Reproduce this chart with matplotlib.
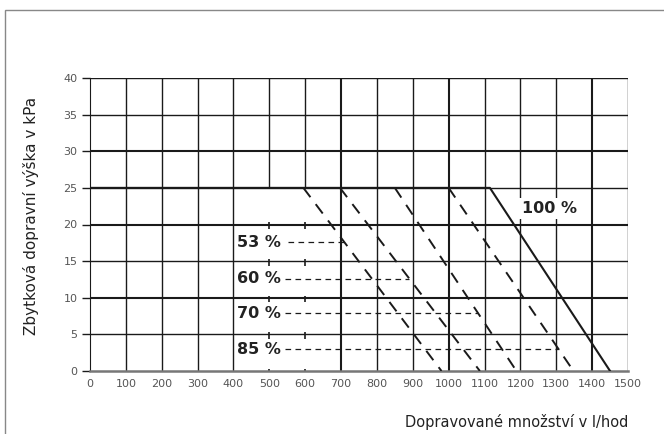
import numpy as np
import matplotlib
matplotlib.use('Agg')
import matplotlib.pyplot as plt
from matplotlib.patches import Rectangle

plt.rcParams['font.family'] = ['DejaVu Sans']

# pump curve at 100 %
flow_100 = [0, 1115, 1450]
head_100 = [25, 25, 0]

# reduced-speed curves: start at 25 kPa, end at 0 kPa
diag_start = [595, 697, 850, 1000]
diag_end = [980, 1087, 1189, 1348]

# operating points
pct_labels = ['53 %', '60 %', '70 %', '85 %']
pct_head = [17.6, 12.6, 7.9, 3.0]
pct_dash_from = [552, 543, 543, 543]

x_ticks = np.arange(0, 1501, 100)
y_ticks = np.arange(0, 41, 5)

fig = plt.figure(figsize=(6.64, 4.34), dpi=100)
ax = fig.add_axes([90/664, 63/434, 538/664, 293/434])

# grid, drawn by hand so the 500/600 lines can stop at 25 kPa
thick_x = [700, 1000, 1400]
thick_y = [30, 20, 10]
for x in x_ticks[1:]:
    lw = 1.5 if x in thick_x else 1.0
    y0 = 25 if x in (500, 600) else 0
    ax.vlines(x, y0, 40, color='#1a1a1a', lw=lw, zorder=1)
    if x in (500, 600):
        for y in y_ticks[:-4]:
            ax.vlines(x, y - 0.6, y + 0.3, color='#1a1a1a', lw=1.2, zorder=1)
for y in y_ticks[1:]:
    lw = 1.5 if y in thick_y else 1.0
    ax.hlines(y, 0, 1500, color='#1a1a1a', lw=lw, zorder=1)

# curves
ax.plot(flow_100, head_100, color='#1a1a1a', lw=1.5, zorder=3)
for xs, xe in zip(diag_start, diag_end):
    ax.plot([xs, xe], [25, 0], color='#1a1a1a', lw=1.4,
            dashes=(6, 4.5), zorder=3)

for lab, h, x0, xs, xe in zip(pct_labels, pct_head, pct_dash_from,
                              diag_start, diag_end):
    x_end = np.interp(h, [0, 25], [xe, xs])
    ax.plot([x0, x_end], [h, h], color='#1a1a1a', lw=0.9,
            dashes=(4.5, 3.5), zorder=2)
    ax.text(410, h, lab, fontsize=11.5, fontweight='bold', color='#222222',
            ha='left', va='center', zorder=4,
            bbox=dict(facecolor='white', edgecolor='none', pad=0.8))

ax.text(1205, 22.2, '100 %', fontsize=11.5, fontweight='bold', color='#222222',
        ha='left', va='center', zorder=4,
        bbox=dict(facecolor='white', edgecolor='none', pad=2.0))

ax.set_xlim(0, 1500)
ax.set_ylim(0, 40)
ax.set_xticks(x_ticks)
ax.set_yticks(y_ticks)
ax.tick_params(axis='x', length=0, pad=6, labelsize=8, labelcolor='#555555')
ax.tick_params(axis='y', length=6, width=1, color='#1a1a1a', pad=3,
               labelsize=8, labelcolor='#555555')
for s in ['top', 'right']:
    ax.spines[s].set_visible(False)
ax.spines['left'].set_color('#1a1a1a')
ax.spines['bottom'].set_color('#777777')
ax.spines['bottom'].set_linewidth(1.8)

ax.set_ylabel('Zbytková dopravní výška v kPa', fontsize=11, color='#222222')
ax.yaxis.set_label_coords(-0.094, 0.529)
ax.set_xlabel('Dopravované množství v l/hod', fontsize=10.5, color='#222222',
              loc='right', labelpad=18)

# partly visible outer frame
fig.patches.append(Rectangle((5/664, -0.2), 1.2, 1.2 - 10/434, transform=fig.transFigure,
                             fill=False, edgecolor='#888888', lw=1.0))

fig.savefig('out.png', dpi=100)
